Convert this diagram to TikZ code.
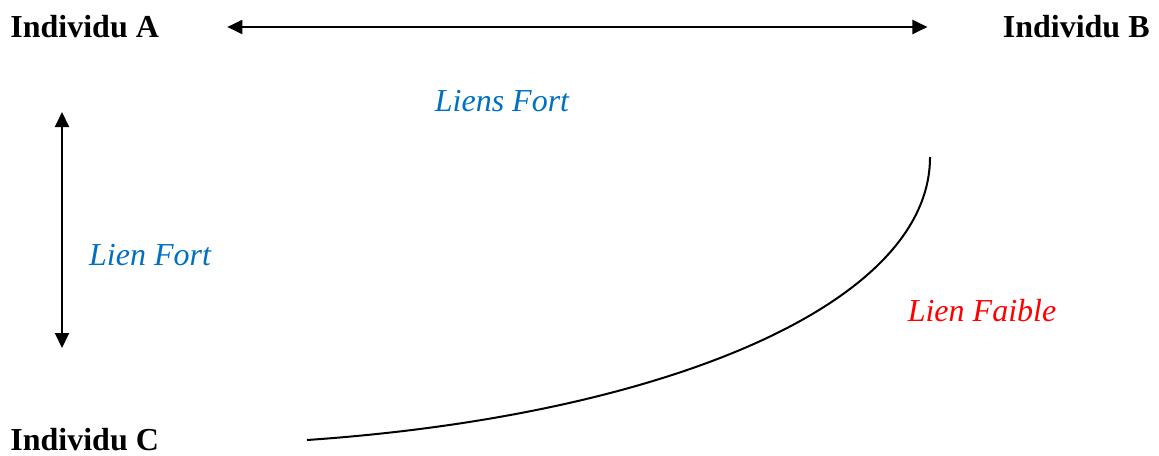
\documentclass[tikz,border=0pt]{standalone}
\usepackage{fontspec}
\setmainfont{Liberation Serif}
\usepackage{xcolor}
\usetikzlibrary{arrows.meta}
\definecolor{lienbleu}{RGB}{0,112,192}
\tikzset{every node/.append style={font=\fontsize{16}{19}\selectfont, inner sep=0pt}}
\tikzset{
  individu/.style={font=\fontsize{16}{19}\selectfont\bfseries},
  fort/.style={text=lienbleu, font=\fontsize{16}{19}\selectfont\itshape},
  faible/.style={text=red, font=\fontsize{16}{19}\selectfont\itshape},
  lien/.style={line width=1pt}
}

\begin{document}
\begin{tikzpicture}[x=0.5pt, y=-0.5pt, >={Triangle[length=7.5pt,width=7pt]}]
    \useasboundingbox (0,0) rectangle (1159,455);
    \node[individu, anchor=west] (indA) at (10,27) {Individu A};
    \node[individu, anchor=east] (indB) at (1150,27) {Individu B};
    \node[individu, anchor=west] (indC) at (10,440) {Individu C};
    \node[fort] (liensfort) at (502,101) {Liens Fort};
    \node[fort] (lienfort) at (150,255) {Lien Fort};
    \node[faible] (lienfaible) at (982,311) {Lien Faible};
    \coordinate (vhaut) at (62,112);
    \coordinate (vbas) at (62,348);
    \coordinate (cdebut) at (930,157);
    \coordinate (cfin) at (307,440);
    \draw[lien, <->, shorten <=34pt, shorten >=37.5pt] (indA.east) -- (indB.west);
    \draw[lien, <->] (vhaut) -- (vbas);
    \draw[lien] (cdebut) .. controls (930,307) and (657,416) .. (cfin);
\end{tikzpicture}
\end{document}
